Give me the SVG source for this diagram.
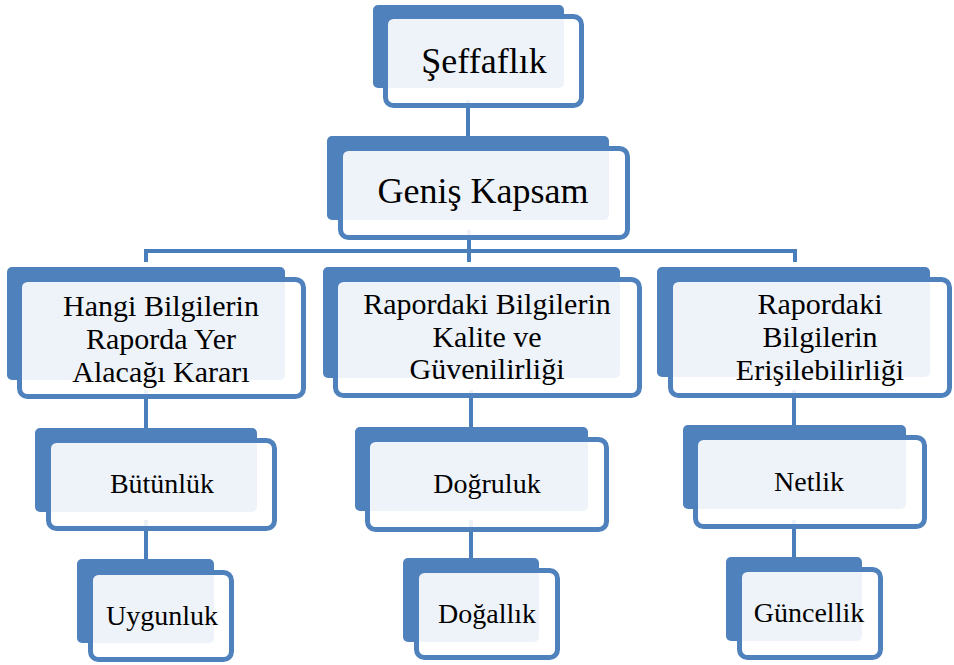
<svg xmlns="http://www.w3.org/2000/svg" width="954" height="665" viewBox="0 0 954 665">
<style>
.back{fill:#4F81BD}
.front{fill:#FFFFFF;fill-opacity:0.9;stroke:#4F81BD;stroke-width:5}
.conn{stroke:#4A7EBB;stroke-width:4;fill:none}
.lbl{font-family:'Times New Roman','Liberation Serif','DejaVu Serif',serif;fill:#000000;text-anchor:middle}
.t1{font-size:36px}
.t2{font-size:30px}
.t3{font-size:28px}
</style>
<rect width="954" height="665" fill="#FFFFFF"/>
<g id="connectors">
<line class="conn" x1="468" y1="100" x2="468" y2="140"/>
<line class="conn" x1="469" y1="230" x2="469" y2="262"/>
<polyline class="conn" points="146,262 146,251 795,251 795,262"/>
<line class="conn" x1="146" y1="390" x2="146" y2="432"/>
<line class="conn" x1="146" y1="520" x2="146" y2="562"/>
<line class="conn" x1="471" y1="390" x2="471" y2="432"/>
<line class="conn" x1="471" y1="520" x2="471" y2="562"/>
<line class="conn" x1="794" y1="390" x2="794" y2="430"/>
<line class="conn" x1="794" y1="520" x2="794" y2="562"/>
</g>
<g id="n1">
<rect class="back" x="373" y="5" width="191" height="83" rx="5"/>
<rect class="front" x="385.5" y="16.5" width="196" height="89" rx="8"/>
<text class="lbl t1" x="484" y="73">Şeffaflık</text>
</g>
<g id="n2">
<rect class="back" x="327" y="136" width="282" height="84" rx="5"/>
<rect class="front" x="340.5" y="148.5" width="287" height="89" rx="8"/>
<text class="lbl t1" x="483" y="203">Geniş Kapsam</text>
</g>
<g id="n3">
<rect class="back" x="7" y="267" width="278" height="113" rx="5"/>
<rect class="front" x="19.5" y="279.5" width="284" height="117" rx="8"/>
<text class="lbl t2" x="161" y="316">Hangi Bilgilerin</text>
<text class="lbl t2" x="161" y="349">Raporda Yer</text>
<text class="lbl t2" x="161" y="382">Alacağı Kararı</text>
</g>
<g id="n4">
<rect class="back" x="323" y="267" width="297" height="111" rx="5"/>
<rect class="front" x="335.5" y="279.5" width="304" height="116" rx="8"/>
<text class="lbl t2" x="487" y="314">Rapordaki Bilgilerin</text>
<text class="lbl t2" x="487" y="347">Kalite ve</text>
<text class="lbl t2" x="487" y="379">Güvenilirliği</text>
</g>
<g id="n5">
<rect class="back" x="657" y="267" width="273" height="110" rx="5"/>
<rect class="front" x="670.5" y="279.5" width="279" height="116" rx="8"/>
<text class="lbl t2" x="820" y="314">Rapordaki</text>
<text class="lbl t2" x="820" y="347">Bilgilerin</text>
<text class="lbl t2" x="820" y="380">Erişilebilirliği</text>
</g>
<g id="n6">
<rect class="back" x="35" y="428" width="222" height="84" rx="5"/>
<rect class="front" x="48.5" y="440.5" width="226" height="88" rx="8"/>
<text class="lbl t3" x="162" y="493">Bütünlük</text>
</g>
<g id="n7">
<rect class="back" x="77" y="559" width="137" height="84" rx="5"/>
<rect class="front" x="90.5" y="572.5" width="141" height="87" rx="8"/>
<text class="lbl t3" x="162" y="625">Uygunluk</text>
</g>
<g id="n8">
<rect class="back" x="355" y="427" width="233" height="84" rx="5"/>
<rect class="front" x="367.5" y="439.5" width="239" height="90" rx="8"/>
<text class="lbl t3" x="487" y="493">Doğruluk</text>
</g>
<g id="n9">
<rect class="back" x="403" y="558" width="136" height="84" rx="5"/>
<rect class="front" x="416.5" y="570.5" width="141" height="87" rx="8"/>
<text class="lbl t3" x="487" y="623">Doğallık</text>
</g>
<g id="n10">
<rect class="back" x="683" y="425" width="223" height="84" rx="5"/>
<rect class="front" x="695.5" y="437.5" width="229" height="89" rx="8"/>
<text class="lbl t3" x="809" y="491">Netlik</text>
</g>
<g id="n11">
<rect class="back" x="726" y="557" width="136" height="84" rx="5"/>
<rect class="front" x="739.5" y="569.5" width="141" height="88" rx="8"/>
<text class="lbl t3" x="809" y="622">Güncellik</text>
</g>
</svg>
